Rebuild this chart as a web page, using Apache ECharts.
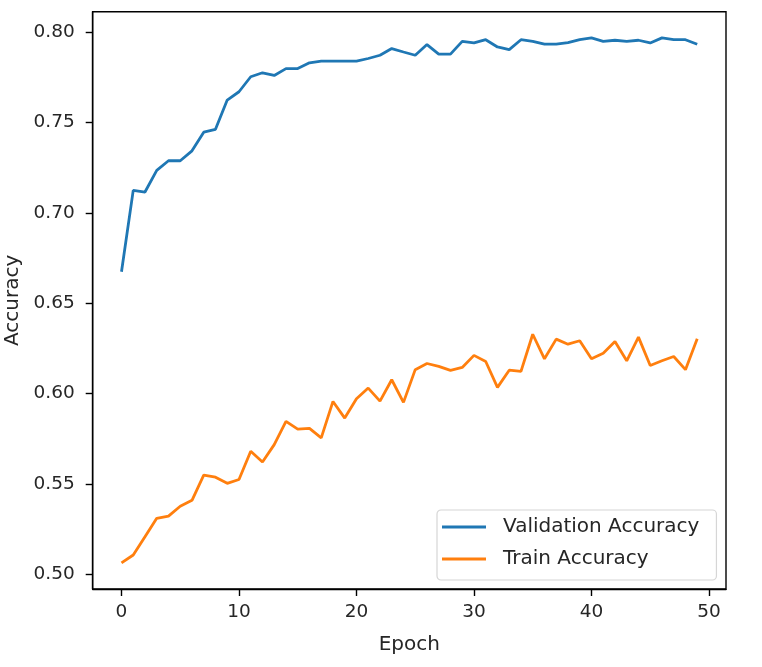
<!DOCTYPE html>
<html>
<head>
<meta charset="utf-8">
<script src="https://cdn.jsdelivr.net/npm/echarts@6/dist/echarts.min.js"></script>
<style>
html,body{margin:0;padding:0;background:#fff;}
#c{width:762px;height:667px;}
</style>
</head>
<body>
<div id="c"></div>
<script>
const epochs = [0,1,2,3,4,5,6,7,8,9,10,11,12,13,14,15,16,17,18,19,20,21,22,23,24,25,26,27,28,29,30,31,32,33,34,35,36,37,38,39,40,41,42,43,44,45,46,47,48,49];
const validationAccuracy = [0.6675,0.7125,0.7116,0.7236,0.7289,0.7289,0.7344,0.7447,0.7463,0.7625,
  0.7671,0.7754,0.7776,0.7761,0.7799,0.7799,0.7831,0.7840,0.7840,0.7840,
  0.7840,0.7855,0.7873,0.7910,0.7891,0.7873,0.7932,0.7879,0.7879,0.7950,
  0.7941,0.7959,0.7919,0.7904,0.7959,0.7950,0.7934,0.7934,0.7943,0.7959,
  0.7969,0.7950,0.7956,0.7950,0.7956,0.7941,0.7969,0.7959,0.7959,0.7934];
const trainAccuracy = [0.5064,0.5107,0.5208,0.5310,0.5322,0.5377,0.5410,0.5549,0.5538,0.5504,
  0.5525,0.5681,0.5622,0.5718,0.5847,0.5804,0.5808,0.5755,0.5957,0.5865,
  0.5972,0.6031,0.5959,0.6077,0.5952,0.6133,0.6167,0.6151,0.6129,0.6145,
  0.6212,0.6178,0.6035,0.6130,0.6123,0.6329,0.6193,0.6302,0.6274,0.6293,
  0.6193,0.6224,0.6289,0.6182,0.6313,0.6156,0.6182,0.6206,0.6133,0.6304];
const xTicks = [0,10,20,30,40,50];
const yTicks = [0.50,0.55,0.60,0.65,0.70,0.75,0.80];
const seriesNames = ['Validation Accuracy','Train Accuracy'];

const FONT = 'DejaVu Sans';
const TXT = '#262626';
const chart = echarts.init(document.getElementById('c'), null, {renderer:'canvas'});
const pairs = (arr) => epochs.map((e,i)=>[e, arr[i]]);

chart.setOption({
  animation:false,
  backgroundColor:'#ffffff',
  grid:{left:92.7, top:11.7, right:36, bottom:78, outerBoundsMode:'none', containLabel:false,
        show:true, borderColor:'#000', borderWidth:1.4, backgroundColor:'transparent'},
  legend:{
    data:seriesNames.map(n=>({name:n, icon:'rect'})),
    orient:'vertical', left:437, top:510,
    itemWidth:44, itemHeight:3, itemGap:12,
    padding:[7,17,11,5],
    borderColor:'#d6d6d6', borderWidth:1.2, borderRadius:4,
    backgroundColor:'rgba(255,255,255,0.8)',
    textStyle:{fontFamily:FONT, fontSize:20, color:TXT, padding:[0,0,0,12]}
  },
  xAxis:{
    type:'value', min:-2.45, max:51.45,
    name:'Epoch', nameLocation:'middle', nameGap:46,
    nameTextStyle:{fontFamily:FONT, fontSize:20, color:TXT},
    axisLine:{onZero:false, lineStyle:{color:'#000', width:1.4}},
    axisTick:{show:true, customValues:xTicks, length:7, lineStyle:{color:'#000', width:1.4}},
    axisLabel:{customValues:xTicks, fontFamily:FONT, fontSize:18.5, color:TXT, margin:14},
    splitLine:{show:false}
  },
  yAxis:{
    type:'value', min:0.4919, max:0.8114,
    name:'Accuracy', nameLocation:'middle', nameGap:66,
    nameTextStyle:{fontFamily:FONT, fontSize:20, color:TXT},
    axisLine:{show:true, onZero:false, lineStyle:{color:'#000', width:1.4}},
    axisTick:{show:true, customValues:yTicks, length:7, lineStyle:{color:'#000', width:1.4}},
    axisLabel:{customValues:yTicks, fontFamily:FONT, fontSize:18.5, color:TXT, margin:18,
      formatter:(v)=>v.toFixed(2)},
    splitLine:{show:false}
  },
  series:[
    {name:seriesNames[0], type:'line', data:pairs(validationAccuracy), symbol:'none', showSymbol:false,
     lineStyle:{color:'#1f77b4', width:2.8}, itemStyle:{color:'#1f77b4'}},
    {name:seriesNames[1], type:'line', data:pairs(trainAccuracy), symbol:'none', showSymbol:false,
     lineStyle:{color:'#ff7f0e', width:2.8}, itemStyle:{color:'#ff7f0e'}}
  ]
});
</script>
</body>
</html>
